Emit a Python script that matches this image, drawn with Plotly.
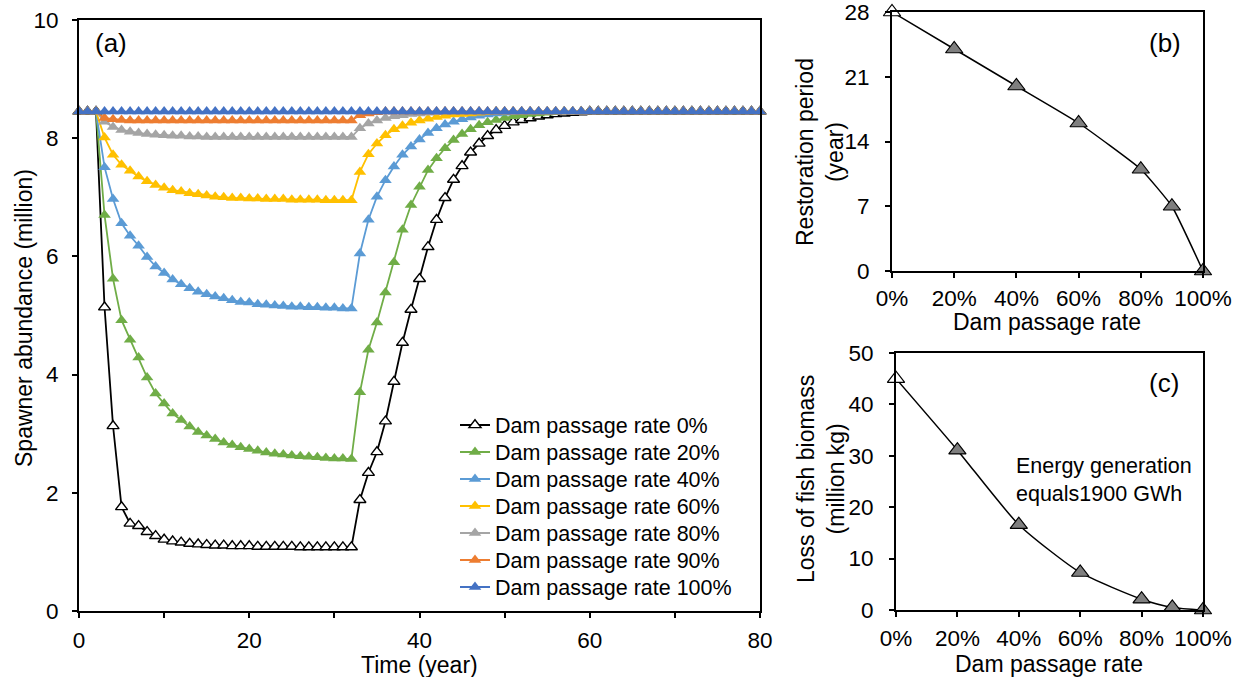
import plotly.graph_objects as go

# ---------------- Data ----------------
years = list(range(0, 81))

s0 = [8.45, 8.45, 8.45, 5.14, 3.13, 1.76, 1.48, 1.44, 1.34, 1.27,
      1.21, 1.18, 1.16, 1.14, 1.13, 1.12, 1.11, 1.11, 1.10, 1.10,
      1.10, 1.09, 1.09, 1.09, 1.09, 1.09, 1.08, 1.08, 1.08, 1.08,
      1.08, 1.08, 1.08, 1.88, 2.34, 2.69, 3.21, 3.88, 4.54, 5.10,
      5.62, 6.16, 6.62, 6.99, 7.30, 7.53, 7.76, 7.91, 8.04, 8.14,
      8.21, 8.27, 8.31, 8.34, 8.37, 8.39, 8.41, 8.42, 8.43, 8.44,
      8.45, 8.45, 8.45, 8.45, 8.45, 8.45, 8.45, 8.45, 8.45, 8.45,
      8.45, 8.45, 8.45, 8.45, 8.45, 8.45, 8.45, 8.45, 8.45, 8.45,
      8.45]

s20 = [8.45, 8.45, 8.45, 6.70, 5.62, 4.92, 4.59, 4.29, 3.95, 3.68,
       3.51, 3.34, 3.23, 3.12, 3.03, 2.97, 2.91, 2.85, 2.81, 2.77,
       2.74, 2.71, 2.68, 2.66, 2.65, 2.63, 2.62, 2.61, 2.60, 2.59,
       2.58, 2.58, 2.57, 3.70, 4.42, 4.88, 5.39, 5.90, 6.45, 6.87,
       7.18, 7.46, 7.66, 7.83, 7.97, 8.07, 8.15, 8.22, 8.27, 8.31,
       8.34, 8.37, 8.39, 8.41, 8.42, 8.43, 8.44, 8.45, 8.45, 8.45,
       8.45, 8.45, 8.45, 8.45, 8.45, 8.45, 8.45, 8.45, 8.45, 8.45,
       8.45, 8.45, 8.45, 8.45, 8.45, 8.45, 8.45, 8.45, 8.45, 8.45,
       8.45]

s40 = [8.45, 8.45, 8.45, 7.51, 6.97, 6.56, 6.35, 6.18, 5.99, 5.83,
       5.72, 5.61, 5.53, 5.46, 5.40, 5.36, 5.32, 5.29, 5.26, 5.23,
       5.22, 5.19, 5.18, 5.17, 5.16, 5.15, 5.15, 5.14, 5.14, 5.13,
       5.13, 5.12, 5.12, 6.05, 6.62, 7.01, 7.29, 7.52, 7.72, 7.86,
       7.98, 8.09, 8.17, 8.23, 8.28, 8.32, 8.35, 8.38, 8.40, 8.42,
       8.43, 8.44, 8.45, 8.45, 8.45, 8.45, 8.45, 8.45, 8.45, 8.45,
       8.45, 8.45, 8.45, 8.45, 8.45, 8.45, 8.45, 8.45, 8.45, 8.45,
       8.45, 8.45, 8.45, 8.45, 8.45, 8.45, 8.45, 8.45, 8.45, 8.45,
       8.45]

s60 = [8.45, 8.45, 8.45, 8.01, 7.72, 7.55, 7.45, 7.35, 7.27, 7.21,
       7.16, 7.12, 7.10, 7.07, 7.05, 7.03, 7.01, 7.00, 6.99, 6.99,
       6.98, 6.98, 6.97, 6.97, 6.97, 6.96, 6.96, 6.96, 6.96, 6.95,
       6.95, 6.95, 6.95, 7.43, 7.73, 7.91, 8.05, 8.15, 8.21, 8.26,
       8.30, 8.33, 8.36, 8.38, 8.40, 8.41, 8.42, 8.43, 8.44, 8.45,
       8.45, 8.45, 8.45, 8.45, 8.45, 8.45, 8.45, 8.45, 8.45, 8.45,
       8.45, 8.45, 8.45, 8.45, 8.45, 8.45, 8.45, 8.45, 8.45, 8.45,
       8.45, 8.45, 8.45, 8.45, 8.45, 8.45, 8.45, 8.45, 8.45, 8.45,
       8.45]

s80 = [8.45, 8.45, 8.45, 8.28, 8.19, 8.14, 8.11, 8.09, 8.07, 8.06,
       8.05, 8.04, 8.04, 8.03, 8.03, 8.02, 8.02, 8.02, 8.02, 8.02,
       8.02, 8.02, 8.02, 8.02, 8.02, 8.02, 8.02, 8.02, 8.02, 8.02,
       8.02, 8.02, 8.02, 8.17, 8.25, 8.30, 8.34, 8.37, 8.39, 8.41,
       8.42, 8.43, 8.44, 8.45, 8.45, 8.45, 8.45, 8.45, 8.45, 8.45,
       8.45, 8.45, 8.45, 8.45, 8.45, 8.45, 8.45, 8.45, 8.45, 8.45,
       8.45, 8.45, 8.45, 8.45, 8.45, 8.45, 8.45, 8.45, 8.45, 8.45,
       8.45, 8.45, 8.45, 8.45, 8.45, 8.45, 8.45, 8.45, 8.45, 8.45,
       8.45]

s90 = [8.45, 8.45, 8.45, 8.34, 8.32, 8.31, 8.30, 8.30, 8.30, 8.30,
       8.30, 8.30, 8.30, 8.30, 8.30, 8.30, 8.30, 8.30, 8.30, 8.30,
       8.30, 8.30, 8.30, 8.30, 8.30, 8.30, 8.30, 8.30, 8.30, 8.30,
       8.30, 8.30, 8.30, 8.39, 8.42, 8.44, 8.45, 8.45, 8.45, 8.45,
       8.45, 8.45, 8.45, 8.45, 8.45, 8.45, 8.45, 8.45, 8.45, 8.45,
       8.45, 8.45, 8.45, 8.45, 8.45, 8.45, 8.45, 8.45, 8.45, 8.45,
       8.45, 8.45, 8.45, 8.45, 8.45, 8.45, 8.45, 8.45, 8.45, 8.45,
       8.45, 8.45, 8.45, 8.45, 8.45, 8.45, 8.45, 8.45, 8.45, 8.45,
       8.45]

s100 = [8.45, 8.45, 8.45, 8.45, 8.45, 8.45, 8.45, 8.45, 8.45, 8.45,
        8.45, 8.45, 8.45, 8.45, 8.45, 8.45, 8.45, 8.45, 8.45, 8.45,
        8.45, 8.45, 8.45, 8.45, 8.45, 8.45, 8.45, 8.45, 8.45, 8.45,
        8.45, 8.45, 8.45, 8.45, 8.45, 8.45, 8.45, 8.45, 8.45, 8.45,
        8.45, 8.45, 8.45, 8.45, 8.45, 8.45, 8.45, 8.45, 8.45, 8.45,
        8.45, 8.45, 8.45, 8.45, 8.45, 8.45, 8.45, 8.45, 8.45, 8.45,
        8.45, 8.45, 8.45, 8.45, 8.45, 8.45, 8.45, 8.45, 8.45, 8.45,
        8.45, 8.45, 8.45, 8.45, 8.45, 8.45, 8.45, 8.45, 8.45, 8.45,
        8.45]

series_names = ["Dam passage rate 0%", "Dam passage rate 20%", "Dam passage rate 40%",
                "Dam passage rate 60%", "Dam passage rate 80%", "Dam passage rate 90%",
                "Dam passage rate 100%"]
series_values = [s0, s20, s40, s60, s80, s90, s100]
series_colors = ["#000000", "#70AD47", "#5B9BD5", "#FFC000", "#A5A5A5", "#ED7D31", "#4472C4"]

passage_rate = [0, 20, 40, 60, 80, 90, 100]
restoration_period = [28, 24, 20, 16, 11, 7, 0]
biomass_loss = [45.0, 31.1, 16.6, 7.3, 2.1, 0.5, 0.0]

pct_ticks = [0, 20, 40, 60, 80, 100]
pct_labels = ["0%", "20%", "40%", "60%", "80%", "100%"]

FONT = "Liberation Sans, Arial, sans-serif"
W, H = 1237, 677
TICK_SIZE = 22.5
TITLE_SIZE = 23

fig = go.Figure()

legend_ids = ["legend", "legend2", "legend3", "legend4", "legend5", "legend6", "legend7"]

# Panel (a)
for name, vals, col, lid in zip(series_names, series_values, series_colors, legend_ids):
    if col == "#000000":
        marker = dict(symbol="triangle-up", size=10.5, color="white",
                      line=dict(color="black", width=1.4))
    else:
        marker = dict(symbol="triangle-up", size=11, color=col, line=dict(width=0))
    fig.add_trace(go.Scatter(x=years, y=vals, mode="lines+markers", name=name,
                             line=dict(color=col, width=1.8), marker=marker,
                             cliponaxis=False, xaxis="x", yaxis="y", legend=lid))

# Panel (b)
fill_b = ["white"] + ["#7F7F7F"] * (len(passage_rate) - 1)
fig.add_trace(go.Scatter(x=passage_rate, y=restoration_period, mode="lines+markers",
                         line=dict(color="black", width=1.5, shape="spline", smoothing=0.4),
                         marker=dict(symbol="triangle-up", size=15, color=fill_b,
                                     line=dict(color="black", width=1.2)),
                         cliponaxis=False, showlegend=False, xaxis="x2", yaxis="y2"))

# Panel (c)
fig.add_trace(go.Scatter(x=passage_rate, y=biomass_loss, mode="lines+markers",
                         line=dict(color="black", width=1.5, shape="spline", smoothing=0.6),
                         marker=dict(symbol="triangle-up", size=15, color=fill_b,
                                     line=dict(color="black", width=1.2)),
                         cliponaxis=False, showlegend=False, xaxis="x3", yaxis="y3"))


def dom_x(a, b):
    return [a / W, b / W]


def dom_y(top, bottom):
    return [1 - bottom / H, 1 - top / H]


def px(x):
    return x / W


def py(y):
    return 1 - y / H


axis_common = dict(showline=True, linecolor="black", linewidth=2, mirror=True,
                   showgrid=False, zeroline=False, ticks="outside", ticklen=5,
                   tickwidth=1.5, tickcolor="black", automargin=False,
                   ticklabeloverflow="allow",
                   tickfont=dict(family=FONT, size=TICK_SIZE, color="black"))

legend_layouts = {}
for i, lid in enumerate(legend_ids):
    legend_layouts[lid] = dict(x=px(455), y=py(425 + 27 * i), xanchor="left",
                               yanchor="middle", bgcolor="rgba(255,255,255,0)",
                               borderwidth=0,
                               font=dict(family=FONT, size=21.5, color="black"))

annotations = [
    dict(text="(a)", x=px(110.5), y=py(43), font=dict(family=FONT, size=26)),
    dict(text="(b)", x=px(1165), y=py(43), font=dict(family=FONT, size=26)),
    dict(text="(c)", x=px(1164), y=py(383), font=dict(family=FONT, size=26)),
    dict(text="Energy generation<br>equals1900 GWh", x=px(1014), y=py(480),
         xanchor="left", align="left", font=dict(family=FONT, size=21.5)),
    dict(text="Time (year)", x=px(419), y=py(665), font=dict(family=FONT, size=TITLE_SIZE)),
    dict(text="Spawner abundance (million)", x=px(24), y=py(318), textangle=-90,
         font=dict(family=FONT, size=TITLE_SIZE)),
    dict(text="Dam passage rate", x=px(1047), y=py(322), font=dict(family=FONT, size=TITLE_SIZE)),
    dict(text="Restoration period<br>(year)", x=px(820), y=py(152), textangle=-90,
         font=dict(family=FONT, size=TITLE_SIZE)),
    dict(text="Dam passage rate", x=px(1049), y=py(664), font=dict(family=FONT, size=TITLE_SIZE)),
    dict(text="Loss of fish biomass<br>(million kg)", x=px(821), y=py(479), textangle=-90,
         font=dict(family=FONT, size=TITLE_SIZE)),
]
for a in annotations:
    a.update(xref="paper", yref="paper", showarrow=False, yanchor="middle")
    a.setdefault("xanchor", "center")
    a["font"]["color"] = "black"

fig.update_layout(
    width=W, height=H,
    margin=dict(l=0, r=0, t=0, b=0),
    paper_bgcolor="white", plot_bgcolor="white",
    font=dict(family=FONT, size=21, color="black"),
    xaxis=dict(domain=dom_x(79, 760), range=[0, 80],
               tickvals=[0, 10, 20, 30, 40, 50, 60, 70, 80],
               ticktext=["0", "", "20", "", "40", "", "60", "", "80"],
               ticklabelstandoff=3, anchor="y", **axis_common),
    yaxis=dict(domain=dom_y(20, 611), range=[0, 10], tickvals=[0, 2, 4, 6, 8, 10],
               ticklabelstandoff=9, anchor="x", **axis_common),
    xaxis2=dict(domain=dom_x(892, 1203), range=[0, 100], tickvals=pct_ticks,
                ticktext=pct_labels, ticklabelstandoff=1, anchor="y2", **axis_common),
    yaxis2=dict(domain=dom_y(12, 271), range=[0, 28], tickvals=[0, 7, 14, 21, 28],
                ticklabelstandoff=11, anchor="x2", **axis_common),
    xaxis3=dict(domain=dom_x(896, 1203), range=[0, 100], tickvals=pct_ticks,
                ticktext=pct_labels, ticklabelstandoff=2, anchor="y3", **axis_common),
    yaxis3=dict(domain=dom_y(353, 610), range=[0, 50], tickvals=[0, 10, 20, 30, 40, 50],
                ticklabelstandoff=11, anchor="x3", **axis_common),
    annotations=annotations,
    **legend_layouts,
)

# remove the page's default body margin so the figure sits at the window origin
fig.write_html("out.html", config={"displayModeBar": False},
               post_script="document.body.style.margin='0px';document.body.style.overflow='hidden';")
